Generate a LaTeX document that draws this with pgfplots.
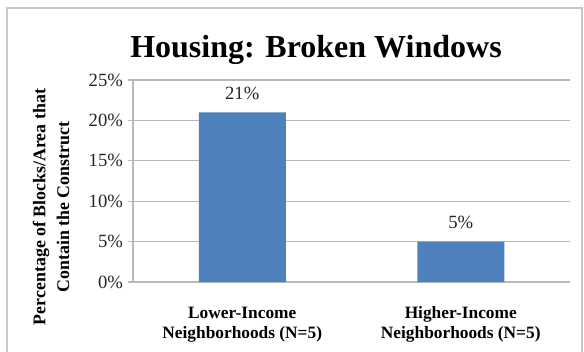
\documentclass[border=0pt]{standalone}
\usepackage{pgfplots}
\pgfplotsset{compat=1.18}
\usepackage{fontspec}
\setmainfont{Liberation Serif}
\definecolor{barblue}{RGB}{79,129,189}
\definecolor{gridgray}{RGB}{185,185,185}
\definecolor{framegray}{RGB}{200,200,200}
% 1 px = 0.75 pt ; picture 584 x 351 px = 438 x 263.25 pt
\begin{document}
\begin{tikzpicture}
\useasboundingbox (0pt,0pt) rectangle (438pt,263.25pt);
\draw[framegray, line width=1pt] (5.25pt,-5pt) rectangle (436.5pt,257.25pt);
\begin{axis}[
  at={(99.75pt,51.75pt)}, anchor=south west,
  width=327.75pt, height=151.5pt, scale only axis,
  ymin=0, ymax=25, ytick={0,5,10,15,20,25},
  xmin=-0.5, xmax=1.5,
  xtick={0,1},
  xticklabels={{Lower-Income\\Neighborhoods (N=5)},{Higher-Income\\Neighborhoods (N=5)}},
  x tick label style={align=center, font=\fontsize{13}{15}\selectfont\bfseries, yshift=-11pt},
  extra x ticks={-0.5,0.5,1.5},
  extra x tick labels={},
  extra x tick style={major tick length=4pt, tick style={gridgray}},
  axis x line=bottom, axis y line=left,
  axis line style={-, gridgray, line width=0.8pt},
  ymajorgrids, grid style={gridgray, line width=0.8pt},
  tick align=outside,
  major tick length=4pt,
  xtick style={draw=none},
  ytick style={gridgray, line width=0.8pt},
  yticklabel={\pgfmathprintnumber{\tick}\%},
  y tick label style={font=\fontsize{14}{16}\selectfont, text=black!85},
  /pgf/number format/assume math mode=true,
  ybar, bar width=65.25pt,
  nodes near coords={\pgfmathprintnumber{\pgfplotspointmeta}\%},
  nodes near coords style={font=\fontsize{14}{16}\selectfont, text=black!85, yshift=6pt},
]
\addplot[fill=barblue, draw=none] coordinates {(0,21) (1,5)};
\end{axis}
\node[font=\fontsize{24}{28}\selectfont\bfseries] at (237pt,226pt) {Housing: Broken Windows};
\node[rotate=90, font=\fontsize{13.4}{15}\selectfont\bfseries] at (30.75pt,108pt) {Percentage of Blocks/Area that};
\node[rotate=90, font=\fontsize{13.4}{15}\selectfont\bfseries] at (47.25pt,108pt) {Contain the Construct};
\end{tikzpicture}
\end{document}
